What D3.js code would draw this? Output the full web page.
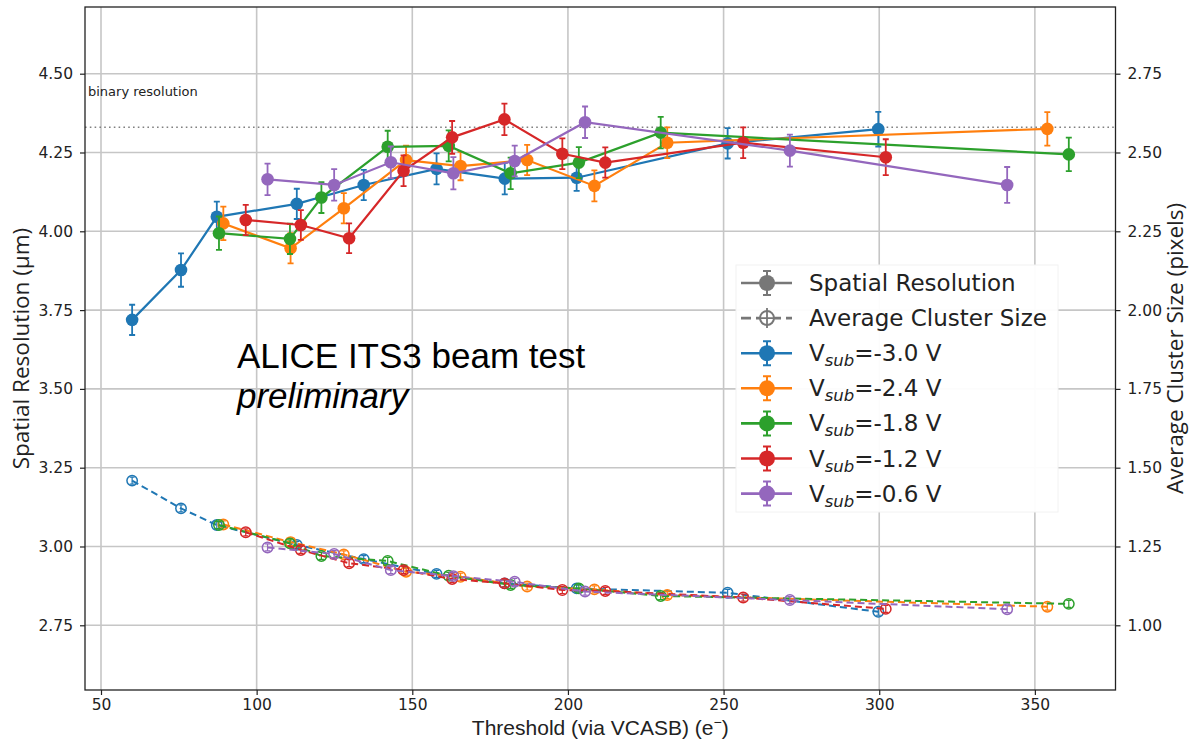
<!DOCTYPE html>
<html>
<head>
<meta charset="utf-8">
<script src="https://cdn.jsdelivr.net/npm/d3@7"></script>
<style>
  body { margin: 0; background: #fff; }
  svg { display: block; }
</style>
</head>
<body>
<div class="chart"></div>
<script>
var W = 1189, H = 740;
var box = {left: 85, right: 1115.5, top: 7, bottom: 690};

// ---- data ----
var xTicks = [50, 100, 150, 200, 250, 300, 350];
var yLeftTicks = [2.75, 3.00, 3.25, 3.50, 3.75, 4.00, 4.25, 4.50];
var yRightTicks = [1.00, 1.25, 1.50, 1.75, 2.00, 2.25, 2.50, 2.75];
var binaryResolution = 4.33;

var vsubLabels = ['-3.0', '-2.4', '-1.8', '-1.2', '-0.6'];

var thr30 = [60, 75.7, 87.2, 112.9, 134.4, 157.8, 179.7, 202.8, 251.3, 299.7];
var res30 = [3.719, 3.877, 4.046, 4.087, 4.147, 4.198, 4.167, 4.170, 4.279, 4.324];
var err30 = [0.048, 0.053, 0.048, 0.048, 0.048, 0.049, 0.050, 0.042, 0.048, 0.055];
var cls30 = [1.459, 1.371, 1.318, 1.255, 1.210, 1.163, 1.133, 1.117, 1.103, 1.043];

var thr24 = [89.3, 110.9, 128.0, 148.0, 165.5, 186.9, 208.5, 231.9, 354.0];
var res24 = [4.025, 3.946, 4.073, 4.226, 4.207, 4.226, 4.144, 4.281, 4.325];
var err24 = [0.053, 0.048, 0.048, 0.046, 0.045, 0.048, 0.049, 0.049, 0.053];
var cls24 = [1.320, 1.264, 1.225, 1.170, 1.154, 1.123, 1.114, 1.096, 1.059];

var thr18 = [87.9, 110.7, 120.8, 142.1, 161.7, 181.6, 203.5, 229.8, 360.9];
var res18 = [3.994, 3.976, 4.107, 4.268, 4.271, 4.184, 4.218, 4.313, 4.244];
var err18 = [0.053, 0.048, 0.049, 0.051, 0.049, 0.050, 0.049, 0.050, 0.053];
var cls18 = [1.318, 1.260, 1.220, 1.204, 1.157, 1.128, 1.117, 1.093, 1.068];

var thr12 = [96.5, 114.2, 129.7, 147.2, 162.8, 179.6, 198.2, 212.0, 256.3, 302.1];
var res12 = [4.036, 4.020, 3.978, 4.192, 4.298, 4.355, 4.246, 4.218, 4.281, 4.235];
var err12 = [0.048, 0.047, 0.047, 0.049, 0.052, 0.050, 0.049, 0.048, 0.049, 0.057];
var cls12 = [1.295, 1.239, 1.197, 1.175, 1.147, 1.133, 1.112, 1.109, 1.088, 1.052];

var thr06 = [103.5, 124.9, 143.1, 163.2, 182.9, 205.5, 271.3, 341.1];
var res06 = [4.165, 4.147, 4.219, 4.184, 4.223, 4.346, 4.256, 4.147];
var err06 = [0.050, 0.050, 0.050, 0.051, 0.049, 0.050, 0.051, 0.057];
var cls06 = [1.247, 1.226, 1.175, 1.156, 1.138, 1.107, 1.080, 1.051];

var colors = ['#1f77b4', '#ff7f0e', '#2ca02c', '#d62728', '#9467bd'];

var series = [
  {thr: thr30, res: res30, err: err30, cls: cls30},
  {thr: thr24, res: res24, err: err24, cls: cls24},
  {thr: thr18, res: res18, err: err18, cls: cls18},
  {thr: thr12, res: res12, err: err12, cls: cls12},
  {thr: thr06, res: res06, err: err06, cls: cls06}
].map(function (s, i) {
  s.color = colors[i];
  s.label = vsubLabels[i];
  s.res_pts = s.thr.map(function (t, j) { return {x: t, y: s.res[j], e: s.err[j]}; });
  s.cls_pts = s.thr.map(function (t, j) { return {x: t, y: s.cls[j]}; });
  return s;
});

// ---- scales ----
var x = d3.scaleLinear().domain([44.86, 375.9]).range([box.left, box.right]);
var yL = d3.scaleLinear().domain([2.5447, 4.7116]).range([box.bottom, box.top]);
var yR = d3.scaleLinear().domain([0.7947, 2.9616]).range([box.bottom, box.top]);

var svg = d3.select('.chart')
  .append('svg')
  .attr('width', W)
  .attr('height', H);

// grid
var grid = svg.append('g');
grid.selectAll('.gx')
  .data(xTicks)
  .enter()
  .append('line')
  .attr('x1', d => x(d)).attr('x2', d => x(d))
  .attr('y1', box.top).attr('y2', box.bottom)
  .style('stroke', '#c6c6c6').style('stroke-width', 1.6);
grid.selectAll('.gy')
  .data(yLeftTicks)
  .enter()
  .append('line')
  .attr('x1', box.left).attr('x2', box.right)
  .attr('y1', d => yL(d)).attr('y2', d => yL(d))
  .style('stroke', '#c6c6c6').style('stroke-width', 1.6);

// binary resolution line
svg.append('line')
  .attr('x1', box.left).attr('x2', box.right)
  .attr('y1', yL(binaryResolution)).attr('y2', yL(binaryResolution))
  .style('stroke', '#808080').style('stroke-width', 1.6)
  .style('stroke-dasharray', '1.6,3.2');
svg.append('text')
  .attr('x', 88).attr('y', 96)
  .style('font-family', 'DejaVu Sans').style('font-size', '13px').style('fill', '#222')
  .text('binary resolution');

// annotation
var note = svg.append('text')
  .attr('x', 237).attr('y', 368)
  .style('font-family', 'Liberation Sans, Arial, sans-serif').style('font-size', '35px').style('fill', '#000');
note.append('tspan').text('ALICE ITS3 beam test');
note.append('tspan').attr('x', 237).attr('dy', 40).style('font-style', 'italic').text('preliminary');

// ---- series ----
var lineRes = d3.line().x(d => x(d.x)).y(d => yL(d.y));
var lineCls = d3.line().x(d => x(d.x)).y(d => yR(d.y));

series.forEach(function (s) {
  var g = svg.append('g');

  // cluster size (dashed, open markers)
  g.append('path')
    .attr('d', lineCls(s.cls_pts))
    .style('fill', 'none').style('stroke', s.color)
    .style('stroke-width', 2).style('stroke-dasharray', '7,4');
  var cm = g.selectAll('.cm')
    .data(s.cls_pts)
    .enter()
    .append('g')
    .attr('transform', d => `translate(${x(d.x)}, ${yR(d.y)})`);
  cm.append('circle')
    .attr('r', 5.2)
    .style('fill', 'none').style('stroke', s.color).style('stroke-width', 1.5);
  cm.append('path')
    .attr('d', 'M0,-3.5V3.5M-2.5,-3.5H2.5M-2.5,3.5H2.5')
    .style('stroke', s.color).style('stroke-width', 1.2);

  // spatial resolution
  g.append('path')
    .attr('d', lineRes(s.res_pts))
    .style('fill', 'none').style('stroke', s.color).style('stroke-width', 2.2);
  var rm = g.selectAll('.rm')
    .data(s.res_pts)
    .enter()
    .append('g');
  rm.append('path')
    .attr('d', d => {
      var cx = x(d.x), y0 = yL(d.y - d.e), y1 = yL(d.y + d.e);
      return `M${cx},${y0}V${y1}M${cx - 3},${y0}H${cx + 3}M${cx - 3},${y1}H${cx + 3}`;
    })
    .style('stroke', s.color).style('stroke-width', 1.8).style('fill', 'none');
  rm.append('circle')
    .attr('cx', d => x(d.x)).attr('cy', d => yL(d.y))
    .attr('r', 6.3)
    .style('fill', s.color);
});

// ---- axes ----
var tickFont = function (sel) {
  sel.selectAll('text')
    .style('font-family', 'DejaVu Sans').style('font-size', '15.5px').style('fill', '#222');
  sel.selectAll('line').style('stroke', '#222').style('stroke-width', 1.2);
  sel.select('.domain').remove();
};

svg.append('g')
  .attr('transform', `translate(${box.left}, 0)`)
  .call(d3.axisLeft(yL).tickValues(yLeftTicks).tickFormat(d3.format('.2f')).tickSize(5).tickPadding(7))
  .call(tickFont);

svg.append('g')
  .attr('transform', `translate(${box.right}, 0)`)
  .call(d3.axisRight(yR).tickValues(yRightTicks).tickFormat(d3.format('.2f')).tickSize(5).tickPadding(7))
  .call(tickFont);

svg.append('g')
  .attr('transform', `translate(0, ${box.bottom})`)
  .call(d3.axisBottom(x).tickValues(xTicks).tickFormat(d3.format('d')).tickSize(5).tickPadding(4))
  .call(tickFont);

// frame
svg.append('rect')
  .attr('x', box.left).attr('y', box.top)
  .attr('width', box.right - box.left).attr('height', box.bottom - box.top)
  .style('fill', 'none').style('stroke', '#222').style('stroke-width', 1.3);

// axis titles
var labelFont = 'Open Sans, sans-serif';
svg.append('text')
  .attr('transform', `translate(29, ${(box.top + box.bottom) / 2}) rotate(-90)`)
  .style('text-anchor', 'middle')
  .style('font-family', labelFont).style('font-size', '22.5px').style('fill', '#222')
  .text('Spatial Resolution (µm)');
svg.append('text')
  .attr('transform', `translate(1183, ${(box.top + box.bottom) / 2}) rotate(-90)`)
  .style('text-anchor', 'middle')
  .style('font-family', labelFont).style('font-size', '22.5px').style('fill', '#222')
  .text('Average Cluster Size (pixels)');
var xt = svg.append('text')
  .attr('x', (box.left + box.right) / 2).attr('y', 735)
  .style('text-anchor', 'middle')
  .style('font-family', 'Liberation Sans, Arial, sans-serif').style('font-size', '21px').style('fill', '#222');
xt.append('tspan').text('Threshold (via VCASB) (e');
xt.append('tspan').attr('dy', -8).style('font-size', '14px').text('\u2212');
xt.append('tspan').attr('dy', 8).text(')');

// ---- legend ----
var legend = svg.append('g').attr('transform', 'translate(736, 265)');
legend.append('rect')
  .attr('width', 322).attr('height', 247)
  .style('fill', '#fff').style('fill-opacity', 0.95).style('stroke', '#f2f2f2');

var legendRows = [
  {color: '#777', kind: 'res', text: 'Spatial Resolution'},
  {color: '#777', kind: 'cls', text: 'Average Cluster Size'}
].concat(series.map(s => ({color: s.color, kind: 'res', vsub: s.label})));

var rows = legend.selectAll('.row')
  .data(legendRows)
  .enter()
  .append('g')
  .attr('transform', (d, i) => `translate(0, ${18 + i * 35.1})`);

rows.append('line')
  .attr('x1', 5).attr('x2', 56)
  .style('stroke', d => d.color).style('stroke-width', 2.6)
  .style('stroke-dasharray', d => d.kind === 'cls' ? '10,5' : null);
rows.filter(d => d.kind === 'res').append('path')
  .attr('d', 'M31,-12V12M27,-12H35M27,12H35')
  .style('stroke', d => d.color).style('stroke-width', 2);
rows.filter(d => d.kind === 'res').append('circle')
  .attr('cx', 31).attr('r', 8)
  .style('fill', d => d.color);
rows.filter(d => d.kind === 'cls').append('circle')
  .attr('cx', 31).attr('r', 7)
  .style('fill', '#fff').style('stroke', d => d.color).style('stroke-width', 2);
rows.filter(d => d.kind === 'cls').append('path')
  .attr('d', 'M31,-10V10M24,0H38')
  .style('stroke', d => d.color).style('stroke-width', 1.8);

var lt = rows.append('text')
  .attr('x', 73).attr('y', 8)
  .style('font-family', 'DejaVu Sans').style('font-size', '23px').style('fill', '#222');
lt.filter(d => !d.vsub).text(d => d.text);
var vt = lt.filter(d => d.vsub);
vt.append('tspan').text('V');
vt.append('tspan').attr('dy', 5).style('font-size', '16.5px').style('font-style', 'italic').text('sub');
vt.append('tspan').attr('dy', -5).text(d => '=' + d.vsub + ' V');
</script>
</body>
</html>
